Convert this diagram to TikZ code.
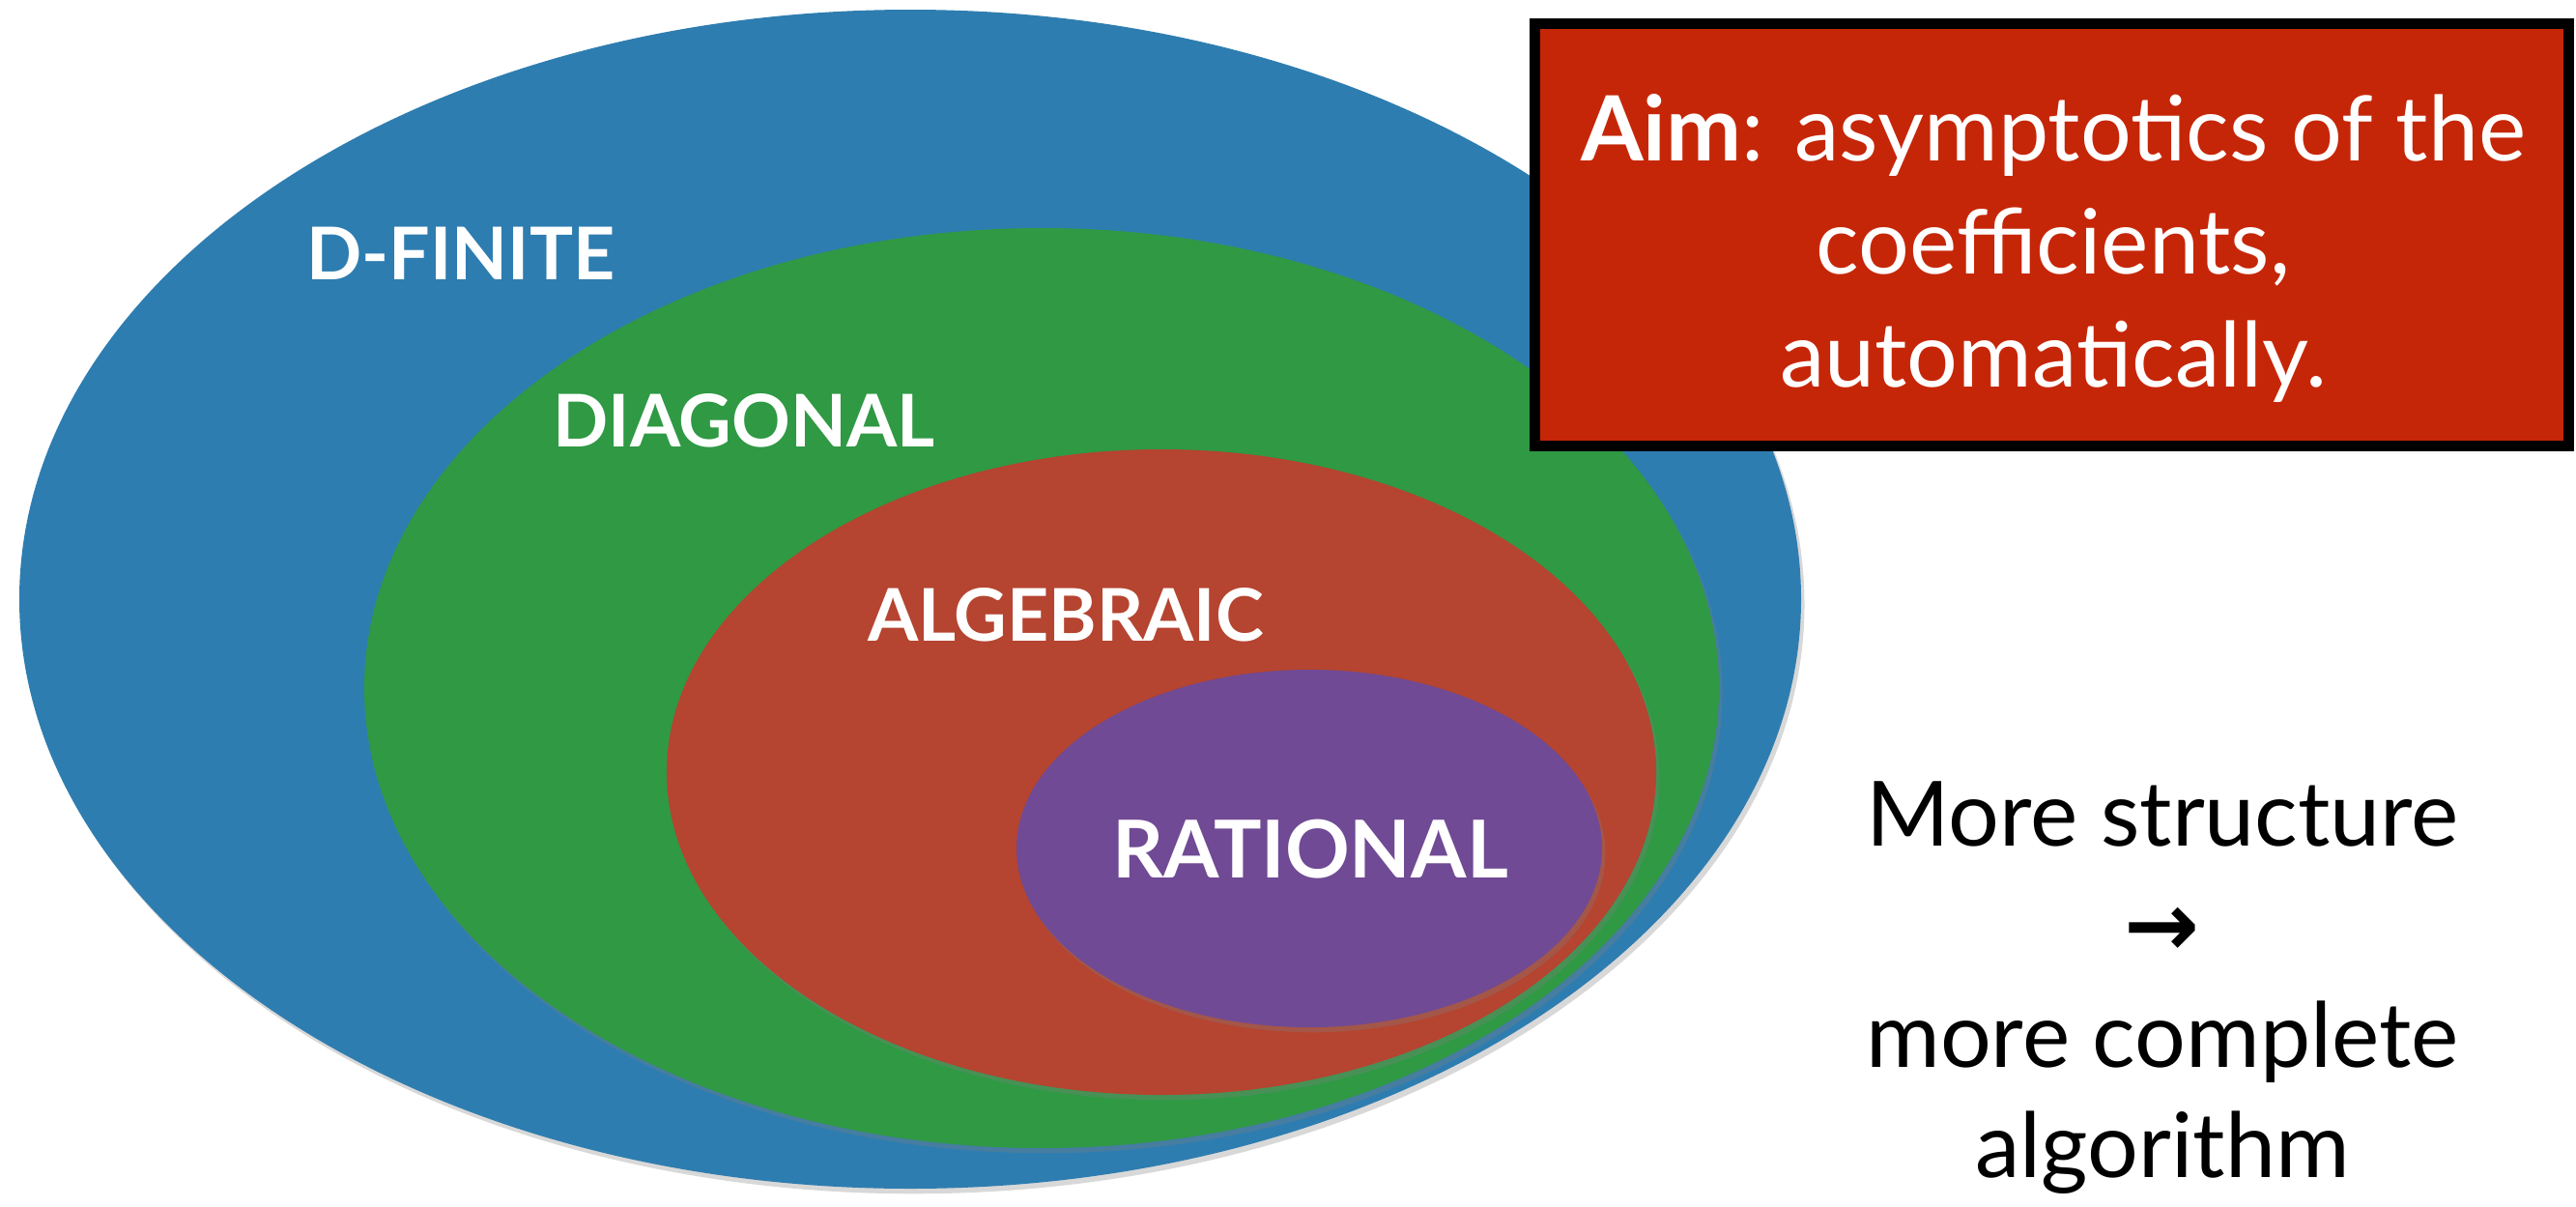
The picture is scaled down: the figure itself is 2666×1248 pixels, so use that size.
\documentclass[tikz,border=0pt]{standalone}
\usepackage{fontspec}
\setmainfont{Lato}
\newfontfamily\arrowfont{DejaVu Sans}
\usetikzlibrary{shadows}
\definecolor{dfblue}{RGB}{46,125,176}
\definecolor{diaggreen}{RGB}{47,153,68}
\definecolor{algred}{RGB}{181,68,48}
\definecolor{ratpurple}{RGB}{112,74,148}
\definecolor{aimred}{RGB}{198,38,8}

\begin{document}
\begin{tikzpicture}[x=0.01cm, y=-0.01cm,
    region/.style={drop shadow={shadow xshift=1pt, shadow yshift=-1.5pt, opacity=0.3}},
    setname/.style={text=white, inner sep=0pt, anchor=base,
      font=\fontsize{21.4}{25}\selectfont\bfseries}]
  \useasboundingbox (0,0) rectangle (2666,1248);
  \fill [white] (0,0) rectangle (2666,1248);
  % nested classes, outermost first
  \fill [dfblue, region] (942,620) ellipse [x radius=922, y radius=610];
  \fill [diaggreen, region] (1078,712) ellipse [x radius=701, y radius=476];
  \fill [algred, region] (1202,799) ellipse [x radius=512, y radius=334];
  \fill [ratpurple, region] (1355,878) ellipse [x radius=303, y radius=185];
  \node [setname] (dfinite) at (477,289) {D-FINITE};
  \node [setname] (diagonal) at (770,462) {DIAGONAL};
  \node [setname] (algebraic) at (1103,663) {ALGEBRAIC};
  \node [setname, font=\fontsize{23.5}{27}\selectfont\bfseries] (rational) at (1356,908) {RATIONAL};
  % the aim
  \node [draw=black, line width=3.1pt, fill=aimred,
    minimum width=10.70cm, minimum height=4.37cm] (aim) at (2123.5,243) {};
  \node [text=white, align=center, inner sep=0pt,
    font=\fontsize{26.5}{33.3}\selectfont] (aimtext) at (2125,257)
    {\textbf{Aim}: asymptotics of the\\coefficients,\\automatically.};
  \node [align=center, inner sep=0pt, font=\fontsize{26.5}{32.5}\selectfont] (moral) at (2238,1022)
    {More structure\\{\arrowfont\bfseries →}\\more complete\\algorithm};
\end{tikzpicture}
\end{document}
